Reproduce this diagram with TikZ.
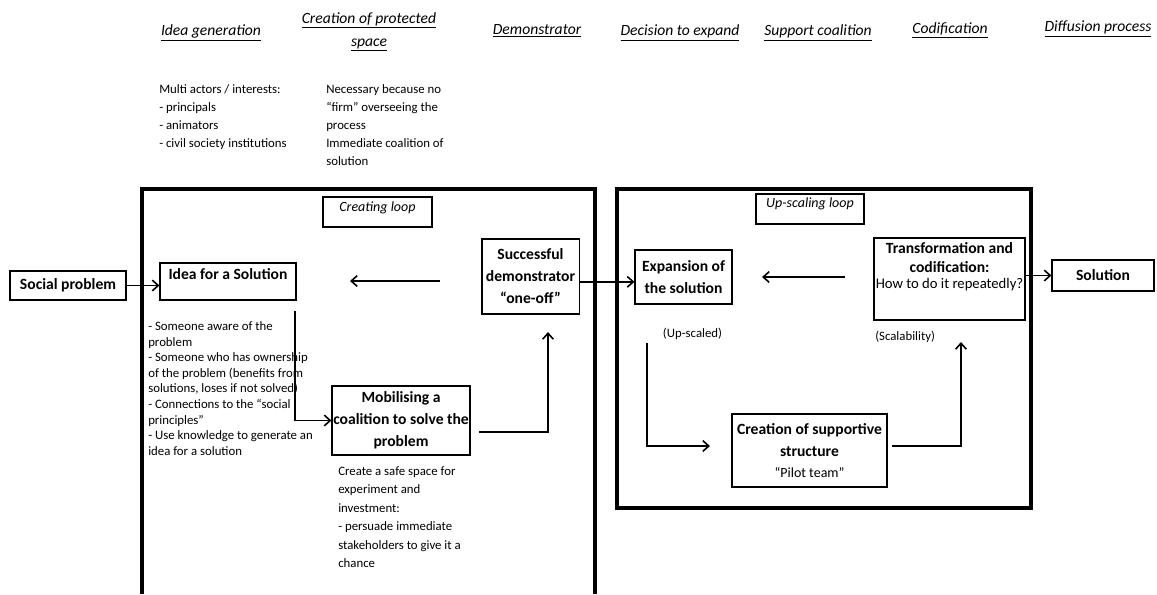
\documentclass[tikz,border=0pt]{standalone}
\usepackage{fontspec}
\setmainfont{Carlito}
\usetikzlibrary{arrows.meta}

\begin{document}
\begin{tikzpicture}[x=0.75pt, y=-0.75pt,
  box/.style={draw, line width=0.8pt, align=center, inner sep=3pt},
  bx/.style={font=\fontsize{11.7}{16.5}\selectfont\bfseries},
  head/.style={font=\fontsize{11.7}{17.25}\selectfont\itshape, align=center, inner sep=0pt},
  note/.style={font=\fontsize{9.6}{13.5}\selectfont, align=left, anchor=north west, inner sep=0pt},
  loopname/.style={box, font=\fontsize{10.5}{12}\selectfont\itshape},
  arr/.style={line width=1.2pt, -{Straight Barb[length=4.5pt,width=8pt]}},
  frame/.style={line width=3pt}]
\useasboundingbox (0,0) rectangle (1157,594);

% Phases along the top
\node[head, anchor=base] (gen) at (211,35.6) {\underline{Idea generation}};
\node[head, anchor=north] (protect) at (369,12) {\underline{Creation of protected}\\\underline{space}};
\node[head, anchor=base] (demonstr) at (537,34.6) {\underline{Demonstrator}};
\node[head, anchor=base] (decide) at (680,35.6) {\underline{Decision to expand}};
\node[head, anchor=base] (support) at (818,35.6) {\underline{Support coalition}};
\node[head, anchor=base] (codif) at (950,33.6) {\underline{Codification}};
\node[head, anchor=base] (diffuse) at (1098,31.6) {\underline{Diffusion process}};

\node[note] (actors) at (159,84.4) {Multi actors / interests:\\- principals\\- animators\\- civil society institutions};
\node[note] (firm) at (326,84.4) {Necessary because no\\“firm” overseeing the\\process\\Immediate coalition of\\solution};

% The two loops
\draw[frame] (142,594) -- (142,189) -- (595,189) -- (595,594);
\draw[frame] (617,189) rectangle (1031,508);

\node[loopname, minimum width=81.75pt, text height=7.9pt, text depth=8.6pt] (loop1) at (377.5,212) {Creating loop};
\node[loopname, minimum width=81pt, text height=7.1pt, text depth=9.4pt] (loop2) at (810,209) {Up-scaling loop};

% Creating loop
\node[box, bx, minimum width=87pt, minimum height=21.75pt] (social) at (68,285.5) {Social problem};
\node[box, bx, minimum width=102pt, text height=9pt, text depth=12.75pt] (idea) at (228,281.5) {Idea for a Solution};
\node[box, bx, minimum width=72.75pt, minimum height=56.25pt] (demo) at (530.5,276.5) {Successful\\demonstrator\\“one-off”};
\node[box, bx, inner xsep=0.5pt, minimum width=103.5pt, minimum height=51.75pt] (mobil) at (401,420.5) {Mobilising a\\coalition to solve the\\problem};

\node[note, font=\fontsize{9.6}{11.7}\selectfont] (aware) at (148,321.4) {- Someone aware of the\\problem\\- Someone who has ownership\\of the problem (benefits from\\solutions, loses if not solved)\\- Connections to the “social\\principles”\\- Use knowledge to generate an\\idea for a solution};
\node[note, font=\fontsize{9.6}{13.8}\selectfont] (safe) at (338,466.4) {Create a safe space for\\experiment and\\investment:\\- persuade immediate\\stakeholders to give it a\\chance};

% Up-scaling loop
\node[box, bx, minimum width=72.75pt, minimum height=40.5pt] (expand) at (683.5,277) {Expansion of\\the solution};
\node[box, minimum width=113.25pt, minimum height=61.5pt] (transform) at (949.5,279) {};
\node[bx, align=center, anchor=north, inner sep=0pt] (transform-txt) at ([yshift=-3.5pt]transform.north) {Transformation and\\[-2.25pt]codification:\\[-4.5pt]{\mdseries\fontsize{11}{13}\selectfont How to do it repeatedly?}};
\node[box, bx, minimum width=116.25pt, minimum height=54.75pt] (pilot) at (809.5,450.5) {Creation of supportive\\structure\\[-0.75pt]{\mdseries\fontsize{10.5}{12}\selectfont “Pilot team”}};
\node[box, bx, minimum width=76.5pt, minimum height=23.25pt] (solution) at (1103,275.5) {Solution};

\node[font=\fontsize{9.6}{12}\selectfont, inner sep=0pt] (upscaled) at (692.5,334) {(Up-scaled)};
\node[font=\fontsize{9.6}{12}\selectfont, inner sep=0pt, anchor=west] (scalab) at (875,337) {(Scalability)};

% Arrows
\coordinate (back1a) at (440,281);
\coordinate (back1b) at (350,281);
\coordinate (idea-out) at (295,311);
\coordinate (mobil-out) at (479,432);
\coordinate (demo-in) at (548,332);
\coordinate (back2a) at (845,277);
\coordinate (back2b) at (762,277);
\coordinate (expand-out) at (647,343);
\coordinate (pilot-in) at (710,446);
\coordinate (pilot-out) at (892,446);
\coordinate (transform-in) at (961,342);

\draw[arr] (social.east) -- (idea.west |- social.east);
\draw[arr] (back1a) -- (back1b);
\draw[arr] (idea-out) |- (mobil.west);
\draw[arr] (mobil-out) -| (demo-in);
\draw[arr] ([yshift=-4pt]demo.east) -- ([yshift=-4pt]demo.east -| expand.west);
\draw[arr] (back2a) -- (back2b);
\draw[arr] (expand-out) |- (pilot-in);
\draw[arr] (pilot-out) -| (transform-in);
\draw[arr] (transform.east |- solution.west) -- (solution.west);
\end{tikzpicture}
\end{document}
